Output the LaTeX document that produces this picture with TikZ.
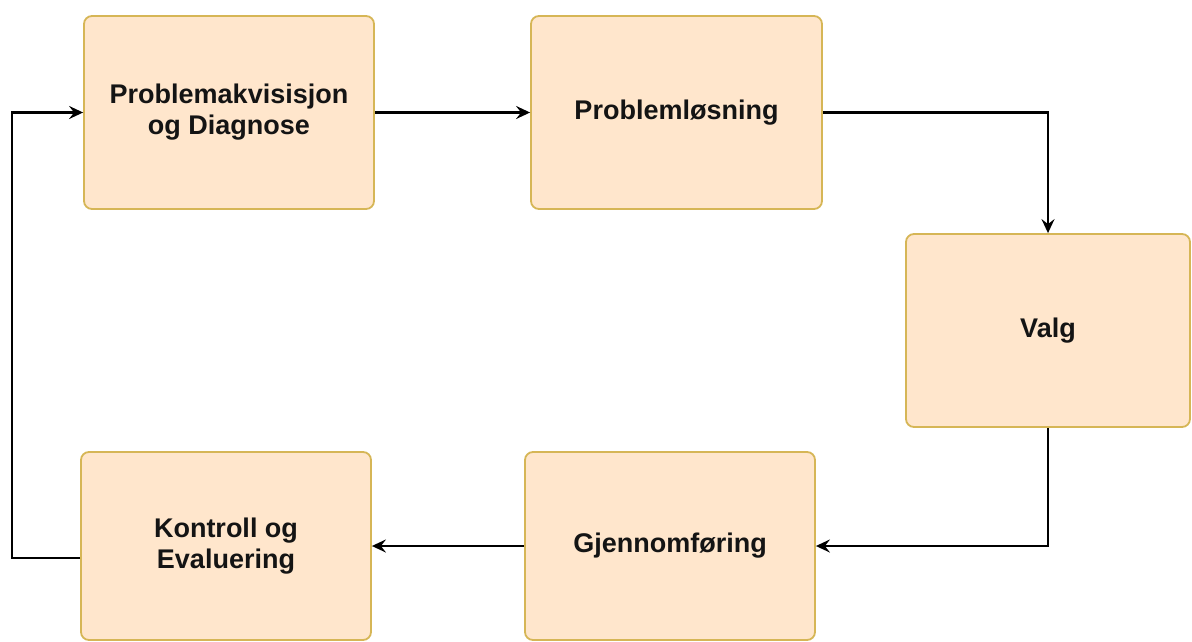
\documentclass[tikz,border=0pt]{standalone}
\usepackage{fontspec}
\setmainfont{Liberation Sans}
\usetikzlibrary{arrows.meta}
\definecolor{boxfill}{HTML}{FFE6CC}
\definecolor{boxline}{HTML}{D6B656}
\definecolor{txt}{HTML}{141414}
\tikzset{
  stepbox/.style={draw=boxline, fill=boxfill, line width=1.8pt, rounded corners=8pt,
    inner sep=0pt, align=center, text=txt,
    font=\fontsize{27}{31}\selectfont\bfseries},
  arr/.style={draw=black, line width=2.3pt, -{Stealth[length=14pt,width=13pt,inset=5pt]}},
}
\begin{document}
\begin{tikzpicture}[x=1pt,y=-1pt]
\useasboundingbox (0,0) rectangle (1192,641);
\node[stepbox, minimum width=290pt, minimum height=193pt] (b1) at (229,112.5) {Problemakvisisjon\\og Diagnose};
\node[stepbox, minimum width=291pt, minimum height=193pt] (b2) at (676.5,112.5) {Problemløsning};
\node[stepbox, minimum width=284pt, minimum height=193pt] (b3) at (1048,330.5) {Valg};
\node[stepbox, minimum width=290pt, minimum height=188pt] (b4) at (670,546) {Gjennomføring};
\node[stepbox, minimum width=290pt, minimum height=188pt] (b5) at (226,546) {Kontroll og\\Evaluering};
\coordinate (lp) at (12,112.5);
\draw[arr] (b1.east) -- (b2.west);
\draw[arr] (b2.east) -| (b3.north);
\draw[arr] (b3.south) |- (b4.east);
\draw[arr] (b4.west) -- (b5.east);
\draw[arr] ([yshift=-12pt]b5.west) -| (lp) -- (b1.west);
\end{tikzpicture}
\end{document}
